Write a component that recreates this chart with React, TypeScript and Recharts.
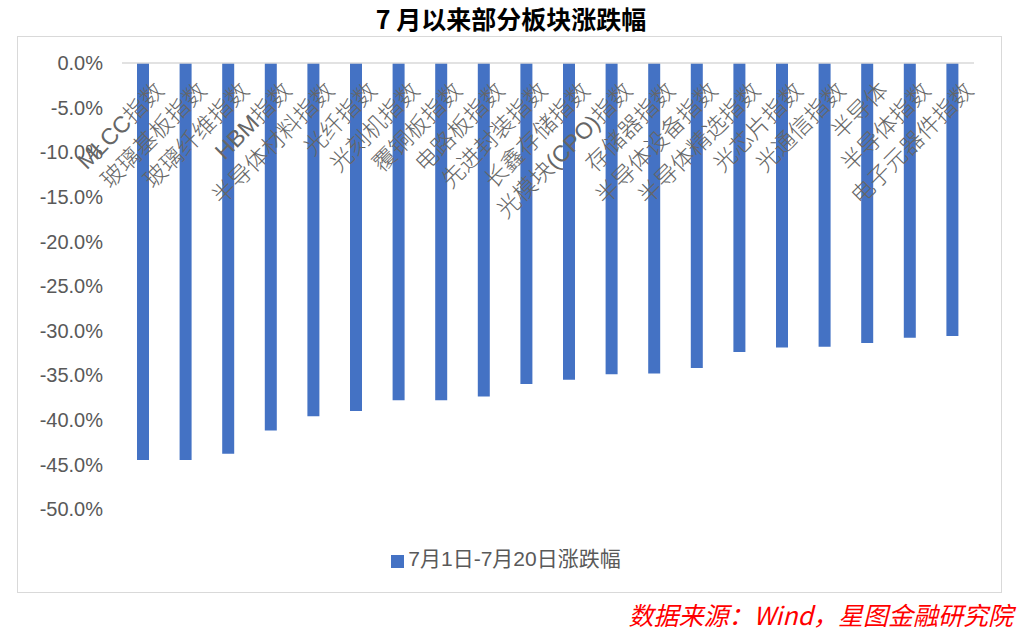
import { BarChart, Bar, XAxis, YAxis, Legend } from "recharts";

// 板块名称
const sectors = [
    "MLCC指数",
    "玻璃基板指数",
    "玻璃纤维指数",
    "HBM指数",
    "半导体材料指数",
    "光纤指数",
    "光刻机指数",
    "覆铜板指数",
    "电路板指数",
    "先进封装指数",
    "长鑫存储指数",
    "光模块(CPO)指数",
    "存储器指数",
    "半导体设备指数",
    "半导体精选指数",
    "光芯片指数",
    "光通信指数",
    "半导体",
    "半导体指数",
    "电子元器件指数",
];

// 7月1日-7月20日涨跌幅 (%)
const changes = [
    -44.5, -44.5, -43.8, -41.2, -39.6, -39.0, -37.8, -37.8, -37.4, -36.0,
    -35.5, -34.9, -34.8, -34.2, -32.4, -31.9, -31.8, -31.4, -30.8, -30.6,
];

const yTicks = [0, -5, -10, -15, -20, -25, -30, -35, -40, -45, -50];

const SERIES_NAME = "7月1日-7月20日涨跌幅";

const data = sectors.map((name, i) => ({ name, value: changes[i] }));

const FONT = '"Liberation Sans", "Noto Sans CJK SC", sans-serif';

const SectorTick = (props: any) => {
    const { x, y, payload } = props;
    const tx = x + 22;
    const ty = y + 31;
    return (
        <text
            x={tx}
            y={ty}
            transform={`rotate(-45, ${tx}, ${ty})`}
            textAnchor="end"
            fontSize={23}
            fontWeight={300}
            fontFamily={FONT}
            fill="#666666"
        >
            {payload.value}
        </text>
    );
};

export default function App() {
    return (
        <div style={{ position: "absolute", left: 0, top: 0, width: 1022, height: 638, background: "#fff", fontFamily: FONT }}>
            <div
                style={{
                    position: "absolute",
                    left: 0,
                    top: 3,
                    width: 1022,
                    textAlign: "center",
                    fontSize: 25,
                    fontWeight: 700,
                    color: "#000",
                    fontFamily: '"Noto Sans CJK SC", sans-serif',
                    lineHeight: "30px",
                }}
            >
                7 月以来部分板块涨跌幅
            </div>
            {/* outer frame */}
            <div
                style={{
                    position: "absolute",
                    left: 17,
                    top: 36,
                    width: 983,
                    height: 555,
                    border: "1px solid #d9d9d9",
                }}
            />
            <div style={{ position: "absolute", left: 0, top: 0 }}>
                <BarChart
                    width={1022}
                    height={638}
                    data={data}
                    margin={{ top: 33, right: 48, bottom: 99, left: 22 }}
                >
                    <YAxis
                        width={100}
                        domain={[-50, 0]}
                        ticks={yTicks}
                        interval={0}
                        axisLine={false}
                        tickLine={false}
                        tickSize={0}
                        tickMargin={19}
                        tickFormatter={(v: number) => `${v.toFixed(1)}%`}
                        tick={{ fontSize: 20, fill: "#595959", fontFamily: FONT }}
                    />
                    <Bar dataKey="value" name={SERIES_NAME} fill="#4472C4" barSize={12} isAnimationActive={false} />
                    <XAxis
                        dataKey="name"
                        orientation="top"
                        height={30}
                        interval={0}
                        tickLine={false}
                        tickSize={0}
                        axisLine={{ stroke: "#d9d9d9", strokeWidth: 1.5 }}
                        tick={<SectorTick />}
                    />
                    <Legend
                        verticalAlign="bottom"
                        align="center"
                        iconType="square"
                        iconSize={13}
                        wrapperStyle={{ top: 542, left: 0, width: 1022 }}
                        formatter={(value: string) => (
                            <span style={{ color: "#595959", fontSize: 21, fontFamily: FONT }}>{value}</span>
                        )}
                    />
                </BarChart>
            </div>
            <div
                style={{
                    position: "absolute",
                    right: 9,
                    top: 599,
                    fontSize: 25,
                    fontStyle: "italic",
                    color: "#ff0000",
                    fontFamily: '"Noto Sans CJK SC", sans-serif',
                    lineHeight: "30px",
                    whiteSpace: "nowrap",
                }}
            >
                数据来源：Wind，星图金融研究院
            </div>
        </div>
    );
}
